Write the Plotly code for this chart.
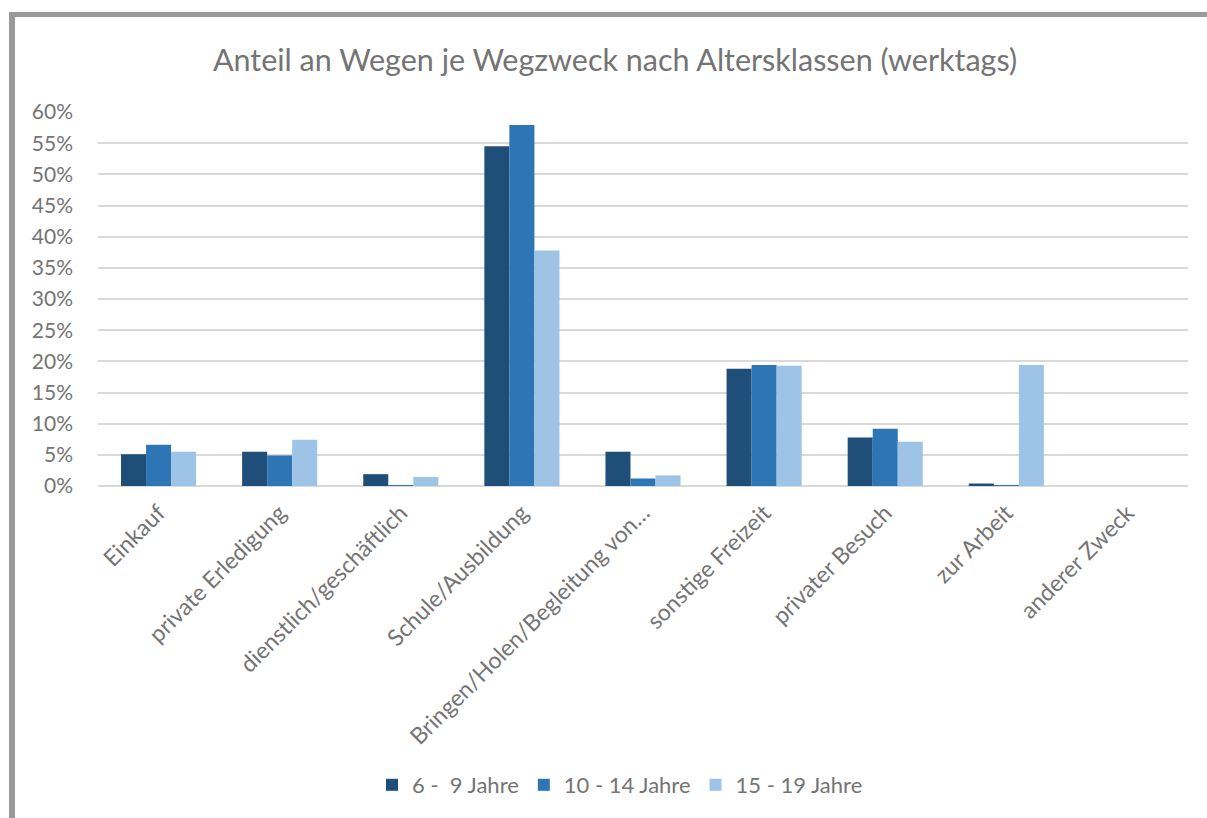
import plotly.graph_objects as go

categories = ["Einkauf", "private Erledigung", "dienstlich/geschäftlich", "Schule/Ausbildung",
              "Bringen/Holen/Begleitung von…", "sonstige Freizeit", "privater Besuch",
              "zur Arbeit", "anderer Zweck"]
series_names = ["6 -  9 Jahre", "10 - 14 Jahre", "15 - 19 Jahre"]
age_6_9 = [5.1, 5.5, 1.9, 54.5, 5.5, 18.8, 7.8, 0.4, 0.0]
age_10_14 = [6.6, 4.9, 0.15, 57.9, 1.2, 19.4, 9.2, 0.1, 0.0]
age_15_19 = [5.5, 7.4, 1.45, 37.8, 1.7, 19.3, 7.1, 19.4, 0.0]
colors = ["#1f4e79", "#2e75b6", "#9dc3e6"]
y_ticks = list(range(0, 61, 5))
y_tick_labels = [f"{v}%" for v in y_ticks]

W, H = 1207, 818
L, R, T, B = 98, 19, 112, 332
pw, ph = W - L - R, H - T - B

def px(x):
    return (x - L) / pw

def py(y):
    return (H - B - y) / ph

font_family = "Lato, Open Sans, sans-serif"
text_color = "#747474"

fig = go.Figure()
for name, vals, c in zip(series_names, [age_6_9, age_10_14, age_15_19], colors):
    fig.add_trace(go.Bar(x=categories, y=vals, name=name, marker_color=c,
                         marker_line_width=0))

fig.update_layout(
    width=W, height=H,
    margin=dict(l=L, r=R, t=T, b=B, autoexpand=False),
    paper_bgcolor="white", plot_bgcolor="white",
    barmode="group", bargap=0.38, bargroupgap=0,
    font=dict(family=font_family, color=text_color, size=20),
    title=dict(text="Anteil an Wegen je Wegzweck nach Altersklassen (werktags)",
               x=615 / W, xanchor="center", y=1 - 60 / H, yanchor="middle",
               font=dict(size=30.5, color=text_color, family=font_family)),
    legend=dict(orientation="h", x=px(620), xanchor="center", y=py(785), yanchor="middle",
                font=dict(size=22, color=text_color), itemwidth=30,
                traceorder="normal"),
    showlegend=True,
)
fig.update_xaxes(tickangle=-45, showgrid=False, showline=False, ticks="",
                 ticklabelstandoff=8,
                 tickfont=dict(size=23, color=text_color))
fig.update_yaxes(range=[0, 60], tickvals=y_ticks, ticktext=y_tick_labels,
                 showgrid=True, gridcolor="#d9d9d9", gridwidth=1.5,
                 zeroline=True, zerolinecolor="#d9d9d9", zerolinewidth=1.5,
                 showline=False, ticks="", ticklabelstandoff=24,
                 tickfont=dict(size=21, color=text_color))

frame_color = "#9a9a9a"
fig.add_shape(type="line", xref="paper", yref="paper",
              x0=px(9), x1=px(1210), y0=py(14.5), y1=py(14.5),
              line=dict(color=frame_color, width=5))
fig.add_shape(type="line", xref="paper", yref="paper",
              x0=px(12), x1=px(12), y0=py(12), y1=py(822),
              line=dict(color=frame_color, width=6))

fig.write_html("out.html", config={"displayModeBar": False},
               post_script="document.body.style.margin='0';document.body.style.overflow='hidden';")
